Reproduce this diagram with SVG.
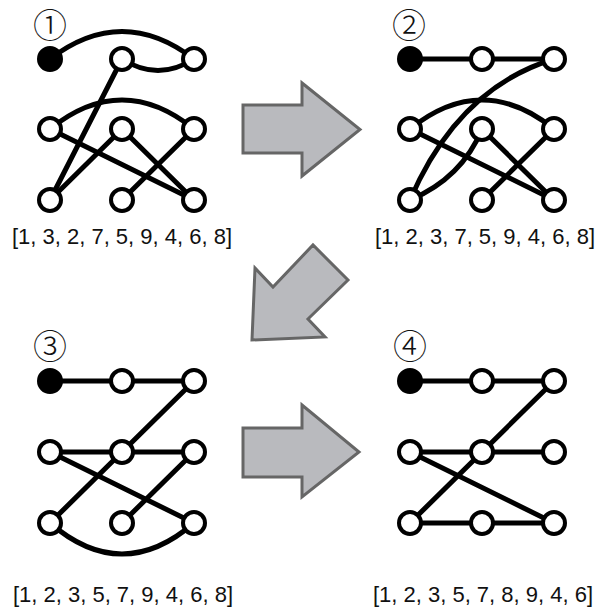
<svg xmlns="http://www.w3.org/2000/svg" width="597" height="613" viewBox="0 0 597 613">
<style>
.e{fill:none;stroke:#000;stroke-width:5;stroke-linecap:round}
.n{fill:#fff;stroke:#000;stroke-width:4}
.s{fill:#000;stroke:#000;stroke-width:4}
.lbl{font-family:"Liberation Sans",Arial,sans-serif;font-size:22px;text-anchor:middle;fill:#111}
.cn{font-family:"Noto Sans CJK JP","DejaVu Sans",sans-serif;font-size:34px;font-weight:200;text-anchor:middle;fill:#111}
.ar{fill:#b9babe;stroke:#666;stroke-width:3;stroke-linejoin:miter}
</style>
<rect width="597" height="613" fill="#fff"/>
<g id="arrows">
<polygon class="ar" points="243,105 302,105 302,83 360,129.5 302,176 302,153 243,153"/>
<polygon class="ar" points="252,340 255,268 273,287 313,245 348,280 308,319 325,337"/>
<polygon class="ar" points="243,428 302,428 302,405 359,452 302,497 302,477 243,477"/>
</g>
<g id="connectors">
<path class="e" d="M50,59 Q122,4 194,59"/>
<path class="e" d="M122,59 Q158,82 194,59"/>
<path class="e" d="M122,59 L50,200"/>
<path class="e" d="M50,129 Q122,71 194,129"/>
<path class="e" d="M50,129 L194,200"/>
<path class="e" d="M122,129 L50,200"/>
<path class="e" d="M122,129 L194,200"/>
<path class="e" d="M194,129 L122,200"/>
<path class="e" d="M410,59 L554,59"/>
<path class="e" d="M554,59 Q458,88 410,200"/>
<path class="e" d="M410,200 Q462,178 482,129"/>
<path class="e" d="M482,129 L554,200"/>
<path class="e" d="M554,200 L410,129"/>
<path class="e" d="M410,129 Q482,71 554,129"/>
<path class="e" d="M554,129 L482,200"/>
<path class="e" d="M50,381 L194,381"/>
<path class="e" d="M194,381 L50,523"/>
<path class="e" d="M50,523 Q122,585 194,523"/>
<path class="e" d="M194,523 L50,452"/>
<path class="e" d="M50,452 L194,452"/>
<path class="e" d="M194,452 L122,523"/>
<path class="e" d="M410,381 L554,381"/>
<path class="e" d="M554,381 L410,523"/>
<path class="e" d="M410,523 L554,523"/>
<path class="e" d="M554,523 L410,452"/>
<path class="e" d="M410,452 L554,452"/>
</g>
<g id="panel1">
<text class="cn" x="50" y="38">①</text>
<circle id="p1n1" class="s" cx="50" cy="59" r="11"/>
<circle id="p1n2" class="n" cx="122" cy="59" r="11"/>
<circle id="p1n3" class="n" cx="194" cy="59" r="11"/>
<circle id="p1n4" class="n" cx="50" cy="129" r="11"/>
<circle id="p1n5" class="n" cx="122" cy="129" r="11"/>
<circle id="p1n6" class="n" cx="194" cy="129" r="11"/>
<circle id="p1n7" class="n" cx="50" cy="200" r="11"/>
<circle id="p1n8" class="n" cx="122" cy="200" r="11"/>
<circle id="p1n9" class="n" cx="194" cy="200" r="11"/>
<text class="lbl" x="122" y="244">[1, 3, 2, 7, 5, 9, 4, 6, 8]</text>
</g>
<g id="panel2">
<text class="cn" x="409" y="38">②</text>
<circle id="p2n1" class="s" cx="410" cy="59" r="11"/>
<circle id="p2n2" class="n" cx="482" cy="59" r="11"/>
<circle id="p2n3" class="n" cx="554" cy="59" r="11"/>
<circle id="p2n4" class="n" cx="410" cy="129" r="11"/>
<circle id="p2n5" class="n" cx="482" cy="129" r="11"/>
<circle id="p2n6" class="n" cx="554" cy="129" r="11"/>
<circle id="p2n7" class="n" cx="410" cy="200" r="11"/>
<circle id="p2n8" class="n" cx="482" cy="200" r="11"/>
<circle id="p2n9" class="n" cx="554" cy="200" r="11"/>
<text class="lbl" x="485" y="244">[1, 2, 3, 7, 5, 9, 4, 6, 8]</text>
</g>
<g id="panel3">
<text class="cn" x="50" y="359">③</text>
<circle id="p3n1" class="s" cx="50" cy="381" r="11"/>
<circle id="p3n2" class="n" cx="122" cy="381" r="11"/>
<circle id="p3n3" class="n" cx="194" cy="381" r="11"/>
<circle id="p3n4" class="n" cx="50" cy="452" r="11"/>
<circle id="p3n5" class="n" cx="122" cy="452" r="11"/>
<circle id="p3n6" class="n" cx="194" cy="452" r="11"/>
<circle id="p3n7" class="n" cx="50" cy="523" r="11"/>
<circle id="p3n8" class="n" cx="122" cy="523" r="11"/>
<circle id="p3n9" class="n" cx="194" cy="523" r="11"/>
<text class="lbl" x="123" y="602">[1, 2, 3, 5, 7, 9, 4, 6, 8]</text>
</g>
<g id="panel4">
<text class="cn" x="410" y="359">④</text>
<circle id="p4n1" class="s" cx="410" cy="381" r="11"/>
<circle id="p4n2" class="n" cx="482" cy="381" r="11"/>
<circle id="p4n3" class="n" cx="554" cy="381" r="11"/>
<circle id="p4n4" class="n" cx="410" cy="452" r="11"/>
<circle id="p4n5" class="n" cx="482" cy="452" r="11"/>
<circle id="p4n6" class="n" cx="554" cy="452" r="11"/>
<circle id="p4n7" class="n" cx="410" cy="523" r="11"/>
<circle id="p4n8" class="n" cx="482" cy="523" r="11"/>
<circle id="p4n9" class="n" cx="554" cy="523" r="11"/>
<text class="lbl" x="483" y="602">[1, 2, 3, 5, 7, 8, 9, 4, 6]</text>
</g>
</svg>
